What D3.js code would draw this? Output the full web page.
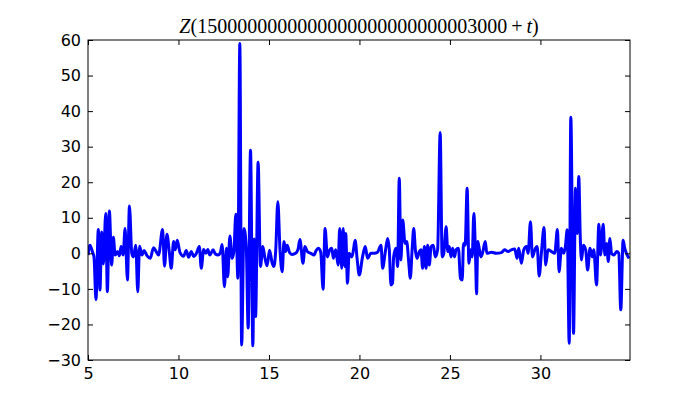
<!DOCTYPE html>
<html>
<head>
<meta charset="utf-8">
<script src="https://cdn.jsdelivr.net/npm/d3@7"></script>
<style>
  body { margin: 0; background: #fff; }
  svg { display: block; }
  .tick text { font-family: "DejaVu Sans", sans-serif; font-size: 16px; fill: #000; }
</style>
</head>
<body>
<div id="container"></div>
<script>
/**
 * CONSTANTS AND DATA
 * */
const width = 700,
  height = 400,
  margin = { top: 40, bottom: 40, left: 88, right: 70 };

const xTicks = [5, 10, 15, 20, 25, 30];
const yTicks = [-30, -20, -10, 0, 10, 20, 30, 40, 50, 60];

// t offsets and Z values (extrema and crossings)
const tValues = [
  5.0, 5.11, 5.24, 5.33, 5.44, 5.57, 5.66, 5.76, 5.85, 5.98, 6.07, 6.18, 6.31, 6.40, 6.50, 6.63, 6.74, 6.83, 6.94,
  7.05, 7.18, 7.29, 7.42, 7.51, 7.64, 7.75, 7.85, 7.98, 8.10, 8.25, 8.44, 8.62, 8.77, 8.90, 9.12, 9.23, 9.36,
  9.49, 9.60, 9.73, 9.82, 9.93, 10.08, 10.28, 10.43, 10.56, 10.71, 10.84, 10.99, 11.15, 11.26, 11.39, 11.52,
  11.62, 11.73, 11.91, 12.04, 12.19, 12.32, 12.41, 12.54, 12.65, 12.72, 12.84, 12.96, 13.06, 13.17, 13.28,
  13.39, 13.49, 13.62, 13.75, 13.85, 13.98, 14.11, 14.18, 14.26, 14.40, 14.53, 14.66, 14.78, 14.90, 15.03,
  15.18, 15.27, 15.37, 15.49, 15.61, 15.73, 15.83, 15.92, 16.01, 16.14, 16.29, 16.47, 16.60, 16.71, 16.88,
  16.99, 17.12, 17.31, 17.49, 17.58, 17.73, 17.86, 17.99, 18.10, 18.23, 18.36, 18.47, 18.56, 18.69, 18.82,
  18.91, 19.02, 19.10, 19.19, 19.24, 19.34, 19.43, 19.58, 19.67, 19.76, 19.87, 19.99, 20.17, 20.32, 20.45,
  20.63, 20.82, 21.00, 21.19, 21.28, 21.43, 21.56, 21.65, 21.74, 21.83, 21.89, 22.02, 22.11, 22.20, 22.29,
  22.39, 22.52, 22.61, 22.72, 22.81, 22.91, 23.00, 23.09, 23.18, 23.31, 23.40, 23.49, 23.59, 23.68, 23.77,
  23.86, 23.96, 24.08, 24.19, 24.32, 24.46, 24.57, 24.66, 24.79, 24.88, 24.97, 25.06, 25.15, 25.25, 25.34,
  25.47, 25.58, 25.68, 25.75, 25.84, 25.95, 26.05, 26.14, 26.23, 26.32, 26.42, 26.47, 26.54, 26.60, 26.71,
  26.82, 26.95, 27.04, 27.29, 27.56, 27.84, 28.02, 28.21, 28.39, 28.58, 28.71, 28.80, 28.95, 29.08, 29.23,
  29.32, 29.45, 29.56, 29.69, 29.82, 29.93, 30.06, 30.20, 30.29, 30.42, 30.61, 30.79, 30.94, 31.03, 31.16,
  31.29, 31.38, 31.48, 31.59, 31.68, 31.83, 31.94, 32.03, 32.12, 32.20, 32.27, 32.37, 32.50, 32.61, 32.74,
  32.86, 32.95, 33.10, 33.23, 33.32, 33.47, 33.56, 33.66, 33.75, 33.84, 33.93, 34.06, 34.21, 34.33, 34.44,
  34.57, 34.66, 34.75, 34.90
];
const zValues = [
  -0.5, 2.3, 0.5, -1, -13, 6.7, -10.3, 6, -3, 11.2, -10.8, 11.9, -3.3, 4.5, -0.5, 0.5, -0.7, 1.9, -0.5,
  7, -7.5, 13.3, 0, -1, 2.3, -10.8, 2, -0.5, 0.8, -0.6, -1.4, 1.6, 0.5, -0.5, 6.7, -3.6, 5.4,
  0.5, -4.2, 3.3, 1, 3.7, 0.3, -0.8, 0.8, -1.1, 0.5, -0.9, 0, 1.9, -4.2, 1.1, 0,
  1.1, -0.5, 1, -0.2, -0.5, 0.3, 2.5, -9.4, 1.4, -6.6, 4.9, -1.4, 0.5, 11, -7,
  59, -25.8, 7, 1, -21, 29, -26, 4, -17.8, 25.6, -3.7, 1.9, -1.4, -3.5, 0.9,
  -2.8, -3.7, 0.5, 14.5, 0.9, -5.2, 3.3, 0.5, 2.3, 0.2, -0.3, 0, 1, 3.9, -2.8,
  1.9, 0.5, 0, -0.5, 0.5, 1.4, 0.3, -10.1, 7, -1, 1, 1.4, -1.4, 1, -3.3,
  7, -4.2, 7, -3.7, 5.6, -8.4, 0, -1, 1, 3.7, -1.5, -6.1, -1, 1.9, -1.4,
  0, 0, 0.3, 2.3, -4.2, 0.5, 4.2, 1, -8.9, -8.4, -1, 1.4, -3.7, 21.1, -1.9,
  9.4, 2.8, 3.3, -2.3, -7, 1, 7, 1, -1.4, 0.5, 1, -4.2, 1.9, -4.2, 2.3,
  -3.3, 1.9, 2.3, -1, 1, 34, -1, 0, 7.5, 0.5, 1.9, -1, 1.4, -1, 1,
  1.4, -7, -7.5, 2.8, 2.3, 18.3, -2.8, 1, -1, 11.2, -1.9, -11.4, 3.3, 1.9, -1,
  0.5, 3.3, 0, 0.3, 0, 0.2, 1, 0.5, 1, 1.2, -1.4, 1.4, -2.8, 1, 1.9,
  0, 8.9, -1, 1, 1.9, -6.4, 0.5, 7.3, -3.3, 1, 0.5, 0, 6.7, -5.2, 1.4,
  0, 1.9, 6.6, -25.3, 38.3, -22.5, 18.3, 5.6, 21.6, 4.7, -1.9, 2.3, 1, -4.7, 1.4,
  -1, 1, -8.9, 8.2, -0.5, 8.2, -0.5, 2.8, -2.3, 4.2, 0, -0.5, 0.5, 0, -15.9,
  3.7, 1.4, 0, -1.4
];

const data = tValues.map((t, i) => ({ t: t, z: zValues[i] }));

/**
 * SCALES
 * */
const xScale = d3.scaleLinear()
  .domain([5, 34.95])
  .range([margin.left, width - margin.right]);

const yScale = d3.scaleLinear()
  .domain([-30, 60])
  .range([height - margin.bottom, margin.top]);

const svg = d3.select("#container")
  .append("svg")
  .attr("width", width)
  .attr("height", height);

svg.append("clipPath")
  .attr("id", "plot-clip")
  .append("rect")
  .attr("x", margin.left)
  .attr("y", margin.top)
  .attr("width", width - margin.left - margin.right)
  .attr("height", height - margin.top - margin.bottom);

// the curve
const line = d3.line()
  .x(d => xScale(d.t))
  .y(d => yScale(d.z))
  .curve(d3.curveMonotoneX);

svg.append("path")
  .datum(data)
  .attr("clip-path", "url(#plot-clip)")
  .attr("fill", "none")
  .attr("stroke", "#0000ff")
  .attr("stroke-width", 3)
  .attr("stroke-linejoin", "round")
  .attr("d", line);

/**
 * AXES (ticks pointing inward on all four sides)
 * */
const fmt = d3.format("d");

svg.append("g")
  .attr("transform", `translate(0,${height - margin.bottom})`)
  .call(d3.axisBottom(xScale).tickValues(xTicks).tickSize(-5).tickPadding(8).tickFormat(fmt));

svg.append("g")
  .attr("transform", `translate(0,${margin.top})`)
  .call(d3.axisTop(xScale).tickValues(xTicks).tickSize(-5).tickFormat(""));

svg.append("g")
  .attr("transform", `translate(${margin.left},0)`)
  .call(d3.axisLeft(yScale).tickValues(yTicks).tickSize(-5).tickPadding(7).tickFormat(fmt));

svg.append("g")
  .attr("transform", `translate(${width - margin.right},0)`)
  .call(d3.axisRight(yScale).tickValues(yTicks).tickSize(-5).tickFormat(""));

svg.selectAll(".domain").remove();
svg.selectAll(".tick line").attr("stroke", "#000");

// frame
svg.append("rect")
  .attr("x", margin.left)
  .attr("y", margin.top)
  .attr("width", width - margin.left - margin.right)
  .attr("height", height - margin.top - margin.bottom)
  .attr("fill", "none")
  .attr("stroke", "#000")
  .attr("stroke-width", 1);

// title
const title = svg.append("text")
  .attr("x", (margin.left + width - margin.right) / 2)
  .attr("y", 33)
  .attr("text-anchor", "middle")
  .style("font-family", "'Liberation Serif', 'DejaVu Serif', serif")
  .style("font-size", "20px");
title.append("tspan").style("font-style", "italic").text("Z");
title.append("tspan").text("(1500000000000000000000000003000\u2009+\u2009");
title.append("tspan").style("font-style", "italic").text("t");
title.append("tspan").text(")");
</script>
</body>
</html>
